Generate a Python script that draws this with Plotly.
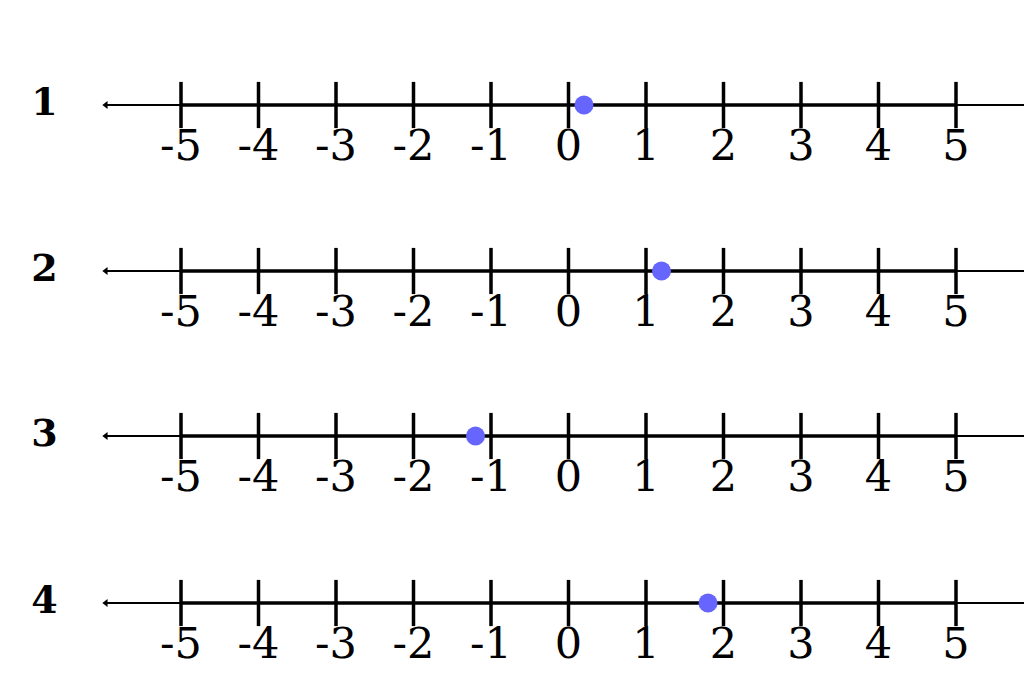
import plotly.graph_objects as go

row_labels = ["1", "2", "3", "4"]
point_values = [0.2, 1.2, -1.2, 1.8]
row_y = [89, 255, 420, 587]
tick_values = [-5, -4, -3, -2, -1, 0, 1, 2, 3, 4, 5]
tick_labels = [str(t) for t in tick_values]

fig = go.Figure()
for label, val, y in zip(row_labels, point_values, row_y):
    # thin full line with arrows
    fig.add_trace(go.Scatter(x=[-5.99, 5.99], y=[y, y], mode="lines",
                             line=dict(color="black", width=1.8), hoverinfo="skip"))
    fig.add_trace(go.Scatter(x=[-5.97, 5.97], y=[y, y], mode="markers",
                             marker=dict(symbol=["triangle-left", "triangle-right"], size=7, color="black"),
                             hoverinfo="skip"))
    # thick segment
    fig.add_trace(go.Scatter(x=[-5, 5], y=[y, y], mode="lines",
                             line=dict(color="black", width=3.5), hoverinfo="skip"))
    # ticks
    fig.add_trace(go.Scatter(x=tick_values, y=[y] * len(tick_values), mode="markers",
                             marker=dict(symbol="line-ns", size=33, line=dict(color="black", width=3.5)),
                             hoverinfo="skip"))
    # tick labels
    fig.add_trace(go.Scatter(x=tick_values, y=[y + 44] * len(tick_values), mode="text",
                             text=tick_labels,
                             textfont=dict(family="DejaVu Serif", size=43, color="black"),
                             hoverinfo="skip"))
    # row label
    fig.add_trace(go.Scatter(x=[-6.76], y=[y], mode="text", text=["<b>" + label + "</b>"],
                             textfont=dict(family="DejaVu Serif", size=38, color="black"),
                             hoverinfo="skip"))
    # point
    fig.add_trace(go.Scatter(x=[val], y=[y], mode="markers",
                             marker=dict(size=19, color="#6666ff"), hoverinfo="skip"))

fig.update_layout(
    width=1032, height=677, showlegend=False,
    margin=dict(l=0, r=0, t=0, b=0),
    plot_bgcolor="white", paper_bgcolor="white",
    xaxis=dict(range=[-560.5 / 77.5, (1032 - 560.5) / 77.5], visible=False),
    yaxis=dict(range=[669, -8], visible=False),
)
fig.write_html("out.html")
